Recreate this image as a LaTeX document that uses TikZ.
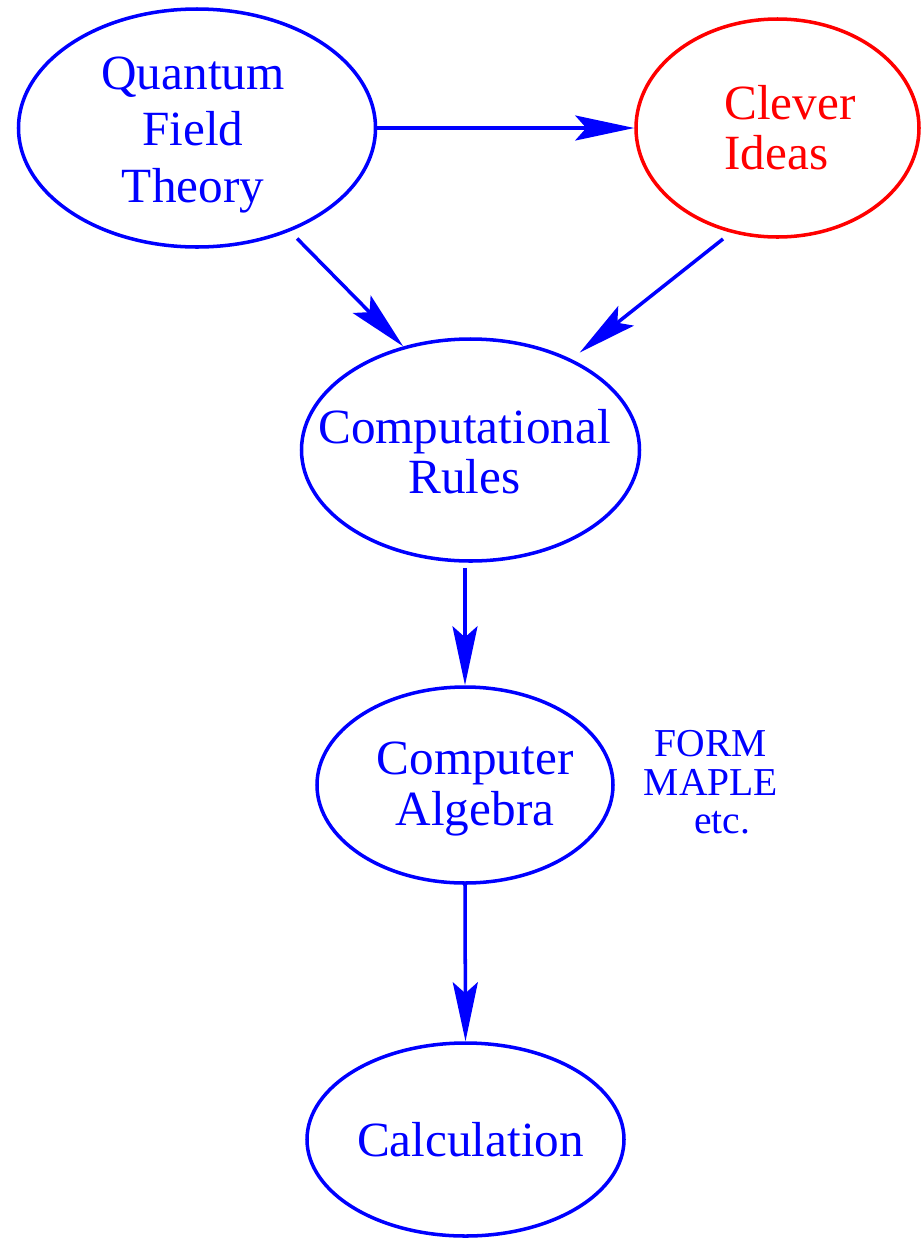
\documentclass[tikz,border=0pt]{standalone}
\usepackage{fontspec}
\setmainfont{Liberation Serif}
\usepackage{xcolor}
\usetikzlibrary{shapes,arrows.meta,positioning}

\tikzset{
    blob/.style={ellipse, draw=blue, line width=2pt, inner sep=0pt},
    blobtext/.style={text=blue, align=center, font=\fontsize{28}{28.5}\selectfont},
    link/.style={draw=blue, line width=2pt,
        -{Stealth[length=1.18cm, width=0.5cm, inset=0.22cm]}},
}

\begin{document}
\begin{tikzpicture}
    \useasboundingbox (0,0) rectangle (18.42,-24.76);

    % ellipses
    \node[blob, minimum width=7.14cm, minimum height=4.76cm]
        (qft) at (3.94,-2.56) {};
    \node[blob, draw=red, minimum width=5.66cm, minimum height=4.36cm]
        (clever) at (15.55,-2.56) {};
    \node[blob, minimum width=6.76cm, minimum height=4.44cm]
        (rules) at (9.41,-9.0) {};
    \node[blob, minimum width=5.92cm, minimum height=3.92cm]
        (algebra) at (9.3,-15.7) {};
    \node[blob, minimum width=6.34cm, minimum height=3.86cm]
        (calc) at (9.31,-22.79) {};

    % texts
    \node[blobtext, font=\fontsize{28}{32}\selectfont] (qftText)
        at ([xshift=-0.08cm, yshift=-0.14cm]qft) {Quantum\\Field\\Theory};
    \node[blobtext, text=red, align=left] (cleverText) at ([xshift=0.25cm]clever)
        {Clever\\Ideas};
    \node[blobtext] (rulesText) at ([xshift=-0.12cm, yshift=-0.04cm]rules)
        {Computational\\Rules};
    \node[blobtext] (algebraText) at ([xshift=0.2cm, yshift=-0.08cm]algebra)
        {Computer\\Algebra};
    \node[blobtext] (calcText) at ([xshift=0.1cm]calc) {Calculation};
    \node[text=blue, align=center, font=\fontsize{22.5}{22}\selectfont,
        right=0.46cm of algebra.east, yshift=0.05cm]
        (tools) {FORM\\MAPLE\\\hspace*{0.45cm}etc.};

    % arrows
    \draw[link] (qft) -- (clever);
    \draw[link, shorten <=0.2cm] (qft.-48) -- (rules.123);
    \draw[link, shorten <=0.2cm, shorten >=0.21cm] (clever.246) -- (rules.42);
    \draw[link, shorten <=0.1cm] (rules.south -| algebra.north) -- (algebra.north);
    \draw[link] (algebra.south) -- (calc.north);
\end{tikzpicture}
\end{document}
